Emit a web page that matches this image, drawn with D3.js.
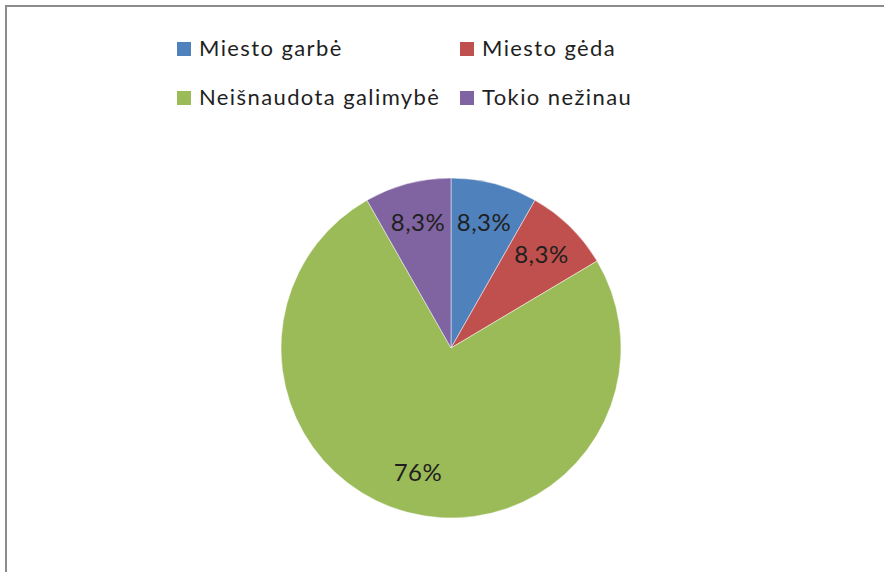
<!DOCTYPE html>
<html>
<head>
<meta charset="utf-8">
<script src="https://cdn.jsdelivr.net/npm/d3@7"></script>
<style>
	body { margin: 0; background: #fff; }
	svg { display: block; }
</style>
</head>
<body>
<div id="chart"></div>
<script>
// Data
const categories = ["Miesto garbė", "Miesto gėda", "Neišnaudota galimybė", "Tokio nežinau"];
const values = [8.3, 8.3, 76, 8.3];
const valueLabels = ["8,3%", "8,3%", "76%", "8,3%"];
const colors = ["#4f81bd", "#c0504d", "#9bbb59", "#8064a2"];

const width = 884;
const height = 572;
const cx = 451;
const cy = 348;
const radius = 170;

const svg = d3.select("#chart")
	.append("svg")
	.attr("width", width)
	.attr("height", height);

// Frame (only top/left edges visible)
svg.append("rect")
	.attr("x", 6)
	.attr("y", 6)
	.attr("width", width + 20)
	.attr("height", height + 20)
	.style("fill", "#fff")
	.style("stroke", "#8c8c8c")
	.style("stroke-width", 2);

const pie = d3.pie()
	.sort(null)
	.value(d => d);

const arcs = pie(values);

const arc = d3.arc()
	.innerRadius(0)
	.outerRadius(radius);

const labelArc = d3.arc()
	.innerRadius(radius * 0.76)
	.outerRadius(radius * 0.76);

const g = svg.append("g")
	.attr("transform", `translate(${cx}, ${cy})`);

g.selectAll("path")
	.data(arcs)
	.enter()
	.append("path")
	.attr("d", arc)
	.style("fill", (d, i) => colors[i])
	.style("stroke", "#fff")
	.style("stroke-width", 0.8)
	.style("stroke-opacity", 0.6);

g.selectAll("text")
	.data(arcs)
	.enter()
	.append("text")
	.attr("transform", d => {
		const [x, y] = labelArc.centroid(d);
		return `translate(${x}, ${y})`;
	})
	.attr("dy", "0.32em")
	.style("text-anchor", "middle")
	.style("font-family", "Lato, 'Open Sans', sans-serif")
	.style("font-size", "24px")
	.style("letter-spacing", "0.5px")
	.style("fill", "#1f1f1f")
	.text((d, i) => valueLabels[i]);

// Legend, 2 columns
const legendX = d3.scaleOrdinal().domain([0, 1]).range([177, 460]);
const legendY = d3.scaleOrdinal().domain([0, 1]).range([56, 105]);

const legend = svg.append("g");

categories.forEach((name, i) => {
	const col = i % 2;
	const row = Math.floor(i / 2);
	const x = legendX(col);
	const y = legendY(row);

	legend.append("rect")
		.attr("x", x)
		.attr("y", y - 14)
		.attr("width", 14)
		.attr("height", 14)
		.style("fill", colors[i]);

	legend.append("text")
		.attr("x", x + 22)
		.attr("y", y)
		.style("font-family", "Lato, 'Open Sans', sans-serif")
		.style("font-size", "22px")
		.style("letter-spacing", "1.4px")
		.style("fill", "#1f1f1f")
		.text(name);
});
</script>
</body>
</html>
